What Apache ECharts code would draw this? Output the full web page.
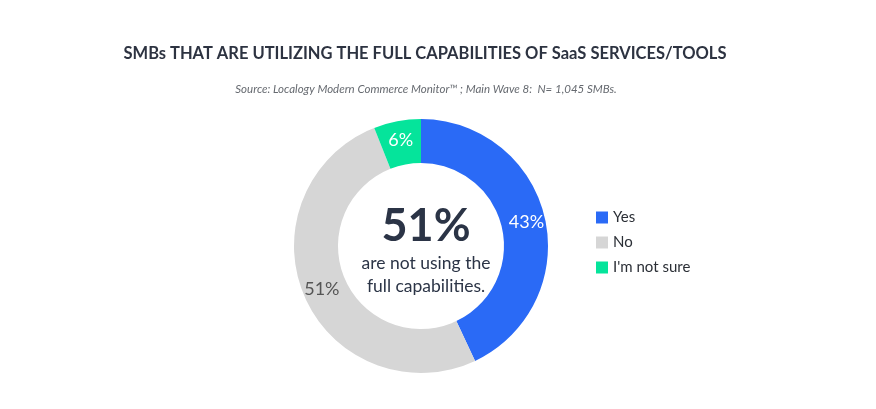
<!DOCTYPE html>
<html><head><meta charset="utf-8">
<script src="https://cdn.jsdelivr.net/npm/echarts@6/dist/echarts.min.js"></script>
<style>html,body{margin:0;padding:0;background:#fff}#c{width:876px;height:409px}</style>
</head><body><div id="c"></div>
<script>
const titleText = 'SMBs THAT ARE UTILIZING THE FULL CAPABILITIES OF SaaS SERVICES/TOOLS';
const subtitleText = 'Source: Localogy Modern Commerce Monitor\u2122 ; Main Wave 8:  N= 1,045 SMBs.';
const categories = ['Yes', 'No', "I'm not sure"];
const values = [43, 51, 6];
const colors = ['#2a6af6', '#d6d6d6', '#05e49b'];
const labelColors = ['#ffffff', '#555555', '#ffffff'];
const centerBig = '51%';
const centerSmall = 'are not using the\nfull capabilities.';

const FONT = 'Lato, "Noto Sans", sans-serif';
const chart = echarts.init(document.getElementById('c'), null, {renderer:'canvas'});
chart.setOption({
  animation: false,
  color: colors,
  title: [
    {text: titleText, left: 420, top: 40, textAlign: 'center',
     textStyle: {fontFamily: FONT, fontSize: 16.5, fontWeight: 'bold', color: '#2d3341'}},
    {text: subtitleText, left: 421, top: 78, textAlign: 'center',
     textStyle: {fontFamily: FONT, fontSize: 11.5, fontStyle: 'italic', fontWeight: 'normal', color: '#666a70'}},
    {text: centerBig, left: 421, top: 199, textAlign: 'center',
     textStyle: {fontFamily: FONT, fontSize: 45, fontWeight: 'bold', color: '#2b3446'}},
    {text: centerSmall, left: 421, top: 247, textAlign: 'center',
     textStyle: {fontFamily: FONT, fontSize: 17.5, fontWeight: 'normal', color: '#2b3446', lineHeight: 23}}
  ],
  legend: {
    orient: 'vertical', left: 591, top: 205, itemWidth: 12, itemHeight: 12, itemGap: 10,
    icon: 'rect',
    textStyle: {fontFamily: FONT, fontSize: 15, color: '#2b2f36'},
    data: categories
  },
  series: [{
    type: 'pie', center: [421, 246], radius: [83, 127], startAngle: 90, clockwise: true,
    avoidLabelOverlap: false,
    label: {show: true, position: 'inside', fontFamily: FONT, fontSize: 18,
      formatter: p => p.value + '%'},
    labelLine: {show: false},
    emphasis: {disabled: true},
    data: categories.map((c, i) => ({name: c, value: values[i],
      label: {color: labelColors[i]}}))
  }]
});
</script></body></html>
